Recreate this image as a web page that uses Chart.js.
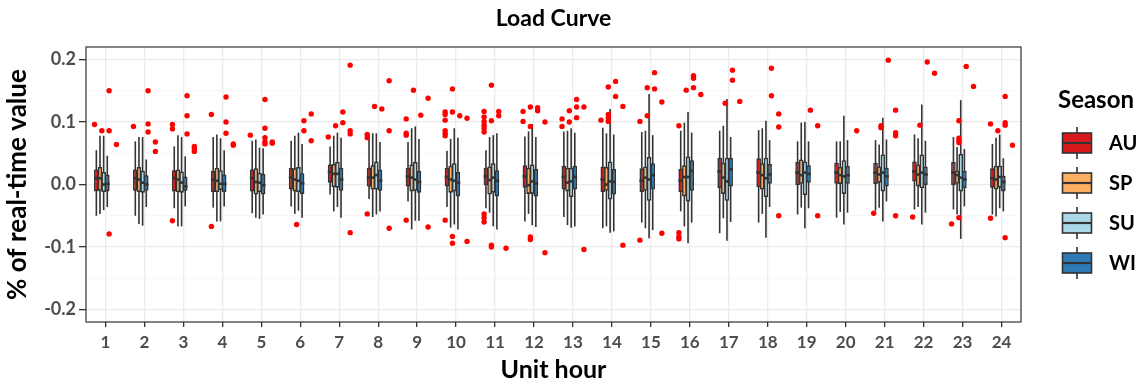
<!DOCTYPE html>
<html>
<head>
<meta charset="utf-8">
<script src="https://cdn.jsdelivr.net/npm/chart.js@4.4.1/dist/chart.umd.min.js"></script>
<style>
  html, body { margin: 0; padding: 0; background: #fff; }
  #wrap { width: 1144px; height: 386px; }
</style>
</head>
<body>
<div id="wrap"><canvas id="chart" width="1144" height="386"></canvas></div>
<script>
// categories
const hours = ['1','2','3','4','5','6','7','8','9','10','11','12',
  '13','14','15','16','17','18','19','20','21','22','23','24'];
const seasons = ['AU', 'SP', 'SU', 'WI'];

// box stats per hour: [lower whisker, q1, median, q3, upper whisker]
const auStats = [
  [-.050,-.011,.010,.024,.055],[-.050,-.010,.010,.024,.069],[-.038,-.011,.010,.023,.061],[-.037,-.012,.008,.022,.076],
  [-.046,-.011,.010,.024,.070],[-.035,-.008,.011,.027,.070],[-.016,.003,.020,.032,.061],[-.023,-.003,.011,.027,.080],
  [-.027,-.003,.013,.027,.068],[-.036,-.003,.012,.027,.054],[-.038,-.001,.013,.027,.055],[-.059,-.005,.013,.031,.077],
  [-.052,-.008,.012,.030,.085],[-.070,-.012,.008,.029,.091],[-.061,-.012,.006,.026,.084],[-.043,-.012,.006,.025,.086],
  [-.078,-.006,.021,.043,.086],[-.061,-.004,.019,.042,.087],[-.048,-.001,.019,.036,.069],[-.053,.000,.019,.035,.069],
  [-.042,.001,.019,.035,.071],[-.040,.005,.021,.037,.080],[-.040,-.001,.019,.036,.076],[-.048,-.005,.010,.026,.065]
];
const spStats = [
  [-.047,-.010,.010,.028,.078],[-.063,-.012,.008,.028,.076],[-.067,-.012,.008,.024,.079],[-.059,-.012,.006,.027,.080],
  [-.053,-.016,.004,.026,.072],[-.047,-.011,.008,.026,.078],[-.043,-.004,.017,.033,.078],[-.052,-.008,.011,.031,.082],
  [-.072,-.011,.011,.032,.090],[-.069,-.013,.008,.030,.073],[-.045,-.016,.007,.029,.076],[-.047,-.015,-.001,.027,.085],
  [-.065,-.011,.003,.027,.086],[-.067,-.010,.000,.028,.082],[-.070,-.010,.011,.029,.086],[-.067,-.019,.012,.031,.099],
  [-.054,-.015,.011,.035,.094],[-.047,-.008,.015,.034,.090],[-.037,.000,.015,.040,.099],[-.044,.001,.015,.028,.069],
  [-.037,.003,.016,.029,.064],[-.036,-.003,.016,.032,.074],[-.048,.000,.015,.022,.060],[-.051,-.008,.008,.030,.075]
];
const suStats = [
  [-.041,-.012,.000,.020,.078],[-.066,-.013,.003,.022,.076],[-.067,-.013,.003,.021,.076],[-.059,-.009,.001,.023,.074],
  [-.055,-.012,.003,.019,.059],[-.042,-.012,.006,.028,.083],[-.036,-.005,.017,.036,.083],[-.048,-.008,.015,.037,.082],
  [-.058,-.010,.008,.036,.093],[-.064,-.011,.006,.034,.090],[-.067,-.013,.011,.034,.079],[-.065,-.015,.005,.032,.097],
  [-.069,-.020,.005,.027,.090],[-.077,-.024,.005,.037,.121],[-.086,-.026,.008,.044,.145],[-.094,-.027,.012,.045,.116],
  [-.090,-.026,.005,.043,.137],[-.085,-.020,.010,.043,.102],[-.070,-.017,.019,.037,.100],[-.064,-.015,.013,.039,.110],
  [-.059,-.011,.019,.048,.107],[-.064,-.006,.019,.048,.128],[-.087,-.011,.011,.049,.135],[-.038,-.005,.012,.030,.080]
];
const wiStats = [
  [-.036,-.011,.001,.016,.046],[-.036,-.010,.000,.015,.040],[-.035,-.010,-.003,.013,.045],[-.035,-.012,.001,.016,.055],
  [-.048,-.016,-.001,.017,.058],[-.053,-.015,.002,.018,.065],[-.053,-.010,.008,.027,.075],[-.043,-.010,.006,.024,.068],
  [-.058,-.013,.004,.022,.073],[-.072,-.019,.003,.020,.075],[-.072,-.019,.006,.023,.082],[-.068,-.019,.002,.025,.076],
  [-.067,-.008,.012,.030,.083],[-.075,-.016,.004,.025,.080],[-.073,-.008,.015,.034,.079],[-.061,-.010,.022,.039,.083],
  [-.060,-.003,.024,.043,.076],[-.036,.000,.016,.033,.071],[-.038,.003,.017,.031,.069],[-.045,.000,.015,.030,.071],
  [-.027,-.003,.013,.027,.072],[-.045,-.001,.016,.029,.070],[-.035,-.006,.008,.022,.057],[-.043,-.011,.004,.014,.042]
];

// outliers per hour
const auOut = [[.096],[.093],[.096,.089,-.058],[.112,-.067],[.079],[],[.076],[.080,.075,-.047],
  [.105,.082,.079,-.057],[.116,.112,.103,.086,.082,.078,-.057],[.117,.108,.101,.095,.090,.084,-.047,-.053,-.060],[.117,.101],
  [.105,.093],[.103],[.101,-.089],[.094,-.077,-.084,-.087],[],[],[],[],[-.046],[-.052],[-.063],[.097,-.054]];
const spOut = [[.086],[],[],[],[],[-.064],[.094],[.125],[.151],[.153,.116,-.083,-.094],[.159,.102,-.097,-.100],
  [.124,.093,-.084,-.088],[.118,.100],[.156,.112,.107,.101],[.155,.110],[.151],[.130],[],[],[],[.094,.091],[.095],
  [.102,.074,.070,.067,-.053],[.086]];
const suOut = [[.150,.086,-.079],[.150,.097,.084],[.142,.110,.081],[.140,.100,.082],[.136,.090,.075,.068,.065],
  [.102,.086],[.116,.099],[.121],[.111],[.110],[.117,.110],[.123,.118],[.136,.124,.107],[.165,.141],[.179,.153],
  [.174,.170,.155],[.183,.167],[.186,.142],[.119],[],[.199],[.196],[.189],[.141,.099,.095,-.085]];
const wiOut = [[.064],[.068,.053],[.061,.057,.053],[.065,.063],[.068,.066],[.113,.070],[.191,.086,.081,-.077],
  [.166,.086,-.070],[.138,-.068],[.106,-.091],[-.102],[.100,-.109],[.124,-.104],[.125,-.097],[.132,-.078],[.144],
  [.133],[.113,.092,-.050],[.094,-.050],[.086],[.119,.083,.078,-.050],[.178],[.157],[.063]];

const allStats = [auStats, spStats, suStats, wiStats];
const allOut = [auOut, spOut, suOut, wiOut];
const fills = ['#D7191C', '#FDAE61', '#ABD9E9', '#2C7BB6'];
const FONT = 'Lato, "Liberation Sans", sans-serif';
const DARK = '#333333';
const GROUP = 0.75; // dodge width

const boxSets = allStats.map((st, k) => ({
  type: 'bar',
  label: seasons[k],
  data: st.map(s => [s[1], s[3]]),
  stats: st,
  backgroundColor: fills[k],
  borderColor: DARK,
  borderWidth: 1.6,
  borderSkipped: false,
  categoryPercentage: GROUP,
  barPercentage: 1.27,
  xAxisID: 'x'
}));

const outPts = [];
allOut.forEach((o, k) => o.forEach((vals, i) => vals.forEach(v => {
  outPts.push({ x: i + (k - 1.5) * GROUP / 4, y: v });
})));

const isMajor = v => Math.abs(Math.round(v * 10) - v * 10) < 1e-6;

// box datasets sit after the outlier dataset (index 0)
const eachBox = (chart, fn) => boxSets.forEach((ds, k) => {
  chart.getDatasetMeta(k + 1).data.forEach((el, i) => fn(el, ds.stats[i]));
});

const boxPlugin = {
  id: 'boxparts',
  beforeDatasetsDraw(chart) {
    const c = chart.ctx, y = chart.scales.y;
    c.save();
    c.strokeStyle = DARK;
    c.lineWidth = 1.6;
    eachBox(chart, (el, s) => {
      c.beginPath();
      c.moveTo(el.x, y.getPixelForValue(s[0]));
      c.lineTo(el.x, y.getPixelForValue(s[4]));
      c.stroke();
    });
    c.restore();
  },
  afterDatasetsDraw(chart) {
    const c = chart.ctx, y = chart.scales.y, a = chart.chartArea;
    c.save();
    c.strokeStyle = DARK;
    c.lineWidth = 2.6;
    eachBox(chart, (el, s) => {
      const py = y.getPixelForValue(s[2]);
      c.beginPath();
      c.moveTo(el.x - el.width / 2, py);
      c.lineTo(el.x + el.width / 2, py);
      c.stroke();
    });
    // panel border
    c.lineWidth = 1.2;
    c.strokeRect(a.left, a.top, a.right - a.left, a.bottom - a.top);
    c.restore();
  },
  afterDraw(chart) {
    const c = chart.ctx;
    c.save();
    c.fillStyle = '#000';
    c.textBaseline = 'middle';
    c.font = 'bold 24px ' + FONT;
    c.fillText('Season', 1058, 100);
    const cx = 1077;
    seasons.forEach((s, k) => {
      const cy = 143 + k * 40;
      c.strokeStyle = DARK;
      c.lineWidth = 1.6;
      c.beginPath();
      c.moveTo(cx, cy - 16);
      c.lineTo(cx, cy + 16);
      c.stroke();
      c.fillStyle = fills[k];
      c.fillRect(cx - 14.5, cy - 10, 29, 20);
      c.strokeRect(cx - 14.5, cy - 10, 29, 20);
      c.lineWidth = 2.2;
      c.beginPath();
      c.moveTo(cx - 14.5, cy);
      c.lineTo(cx + 14.5, cy);
      c.stroke();
      c.fillStyle = '#000';
      c.font = 'bold 20px ' + FONT;
      c.fillText(s, 1109, cy + 1);
    });
    c.restore();
  }
};

new Chart(document.getElementById('chart'), {
  type: 'bar',
  data: {
    labels: hours,
    datasets: [
      {
        type: 'scatter',
        label: 'outliers',
        data: outPts,
        xAxisID: 'xo',
        backgroundColor: '#FF0000',
        borderWidth: 0,
        pointRadius: 2.7,
        order: -1
      },
      ...boxSets
    ]
  },
  options: {
    responsive: false,
    animation: false,
    layout: { padding: { left: 0, right: 123, top: 0, bottom: 0 } },
    plugins: {
      legend: { display: false },
      tooltip: { enabled: false },
      title: {
        display: true,
        text: 'Load Curve',
        fullSize: false,
        color: '#000',
        font: { family: FONT, size: 23, weight: 'bold' },
        padding: { top: 5, bottom: 14.4 }
      }
    },
    scales: {
      x: {
        type: 'category',
        offset: true,
        border: { display: false },
        grid: { offset: false, color: '#EBEBEB', lineWidth: 1.3, tickColor: DARK, tickLength: 5 },
        ticks: { color: '#4D4D4D', maxRotation: 0, autoSkip: false, padding: 5,
          font: { family: FONT, size: 17, weight: 'bold' } },
        title: { display: true, text: 'Unit hour', color: '#000',
          font: { family: FONT, size: 25, weight: 'bold' }, padding: { top: 0, bottom: 1 } },
        afterFit: s => { s.height = 64; }
      },
      xo: {
        type: 'linear',
        display: false,
        offset: false,
        grid: { offset: false },
        min: -0.5,
        max: 23.5
      },
      y: {
        min: -0.22,
        max: 0.22,
        border: { display: false },
        grid: {
          color: ctx => isMajor(ctx.tick.value) ? '#EBEBEB' : '#F4F4F4',
          lineWidth: ctx => isMajor(ctx.tick.value) ? 1.3 : 0.7,
          tickColor: ctx => isMajor(ctx.tick.value) ? DARK : 'rgba(0,0,0,0)',
          tickLength: 7
        },
        ticks: {
          stepSize: 0.05,
          includeBounds: false,
          autoSkip: false,
          padding: 3,
          color: '#4D4D4D',
          font: { family: FONT, size: 18, weight: 'bold' },
          callback: v => isMajor(v) ? (Math.abs(v) < 1e-9 ? '0.0' : v.toFixed(1)) : ''
        },
        title: { display: true, text: '% of real-time value', color: '#000',
          font: { family: FONT, size: 26, weight: 'bold' }, padding: { top: 2, bottom: 0 } },
        afterFit: s => { s.width = 86; }
      }
    }
  },
  plugins: [boxPlugin]
});
</script>
</body>
</html>
